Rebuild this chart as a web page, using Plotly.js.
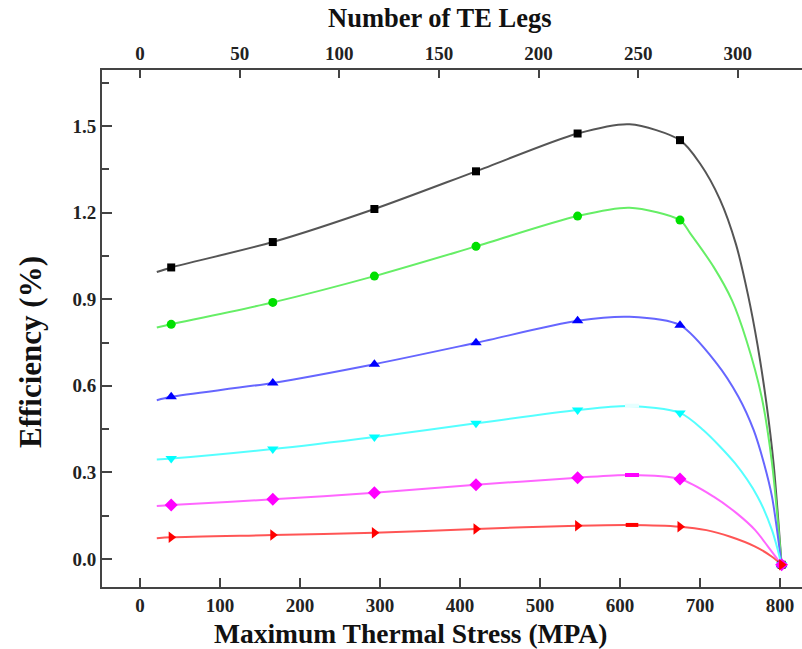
<!DOCTYPE html>
<html>
<head>
<meta charset="utf-8">
<script src="https://cdn.plot.ly/plotly-3.0.1.min.js"></script>
<style>html,body{margin:0;padding:0;background:#fff;}#chart{width:802px;height:649px;}</style>
</head>
<body>
<div id="chart"></div>
<script>
// ---- data ----
// stress (MPa) at the plotted markers
const markerStress = [39, 166, 293, 420, 547, 675, 802];
const blackMarkers   = [1.010, 1.098, 1.2125, 1.343, 1.474, 1.451, -0.02];
const greenMarkers   = [0.813, 0.889, 0.980, 1.083, 1.188, 1.174, -0.02];
const blueMarkers    = [0.562, 0.610, 0.675, 0.749, 0.825, 0.810, -0.02];
const cyanMarkers    = [0.348, 0.381, 0.423, 0.470, 0.516, 0.506, -0.02];
const magentaMarkers = [0.187, 0.2066, 0.2296, 0.257, 0.2815, 0.277, -0.02];
const redMarkers     = [0.075, 0.083, 0.091, 0.104, 0.1155, 0.112, -0.02];

// traced curve points
const blackCurveX = [21, 39, 166, 293, 420, 547, 612, 675, 700, 725, 745, 760, 772, 783, 792, 802];
const blackCurveY = [0.994, 1.010, 1.098, 1.2125, 1.343, 1.474, 1.506, 1.451, 1.37, 1.245, 1.09, 0.915, 0.74, 0.54, 0.33, -0.02];
const greenCurveX = [21, 39, 166, 293, 420, 547, 612, 675, 688, 717, 740, 758, 777, 790, 802];
const greenCurveY = [0.802, 0.813, 0.889, 0.980, 1.083, 1.188, 1.217, 1.174, 1.127, 1.012, 0.896, 0.758, 0.562, 0.332, -0.02];
const blueCurveX = [21, 39, 166, 293, 420, 547, 612, 675, 721, 748, 767, 780, 790, 802];
const blueCurveY = [0.550, 0.562, 0.610, 0.675, 0.749, 0.825, 0.839, 0.810, 0.677, 0.562, 0.447, 0.331, 0.216, -0.02];
const cyanCurveX = [21, 39, 166, 293, 420, 547, 612, 675, 704, 744, 772, 790, 802];
const cyanCurveY = [0.345, 0.348, 0.381, 0.423, 0.470, 0.516, 0.530, 0.506, 0.447, 0.331, 0.216, 0.10, -0.02];
const magentaCurveX = [21, 39, 166, 293, 420, 547, 612, 675, 717, 746, 769, 785, 802];
const magentaCurveY = [0.1835, 0.187, 0.2066, 0.2296, 0.257, 0.2815, 0.291, 0.277, 0.216, 0.158, 0.10, 0.043, -0.02];
const redCurveX = [21, 39, 166, 293, 420, 547, 612, 675, 708, 738, 769, 790, 802];
const redCurveY = [0.0717, 0.075, 0.083, 0.091, 0.104, 0.1155, 0.118, 0.112, 0.10, 0.077, 0.043, 0.008, -0.02];

// small bar marks near the peaks
const peakBarStress = [615];
const magentaPeakBar = [0.291];
const redPeakBar = [0.118];
const cyanPeakBar = [0.531];

const stressTicks = [0, 100, 200, 300, 400, 500, 600, 700, 800];
const legTicks = [0, 50, 100, 150, 200, 250, 300];
const effTicks = [0.0, 0.3, 0.6, 0.9, 1.2, 1.5];

const series = [
  {cx: blackCurveX, cy: blackCurveY, my: blackMarkers, line: '#555555', mark: '#000000', sym: 'square', size: 8},
  {cx: greenCurveX, cy: greenCurveY, my: greenMarkers, line: '#66ee66', mark: '#00e000', sym: 'circle', size: 9},
  {cx: blueCurveX, cy: blueCurveY, my: blueMarkers, line: '#6666ff', mark: '#0000ff', sym: 'triangle-up', size: 10},
  {cx: cyanCurveX, cy: cyanCurveY, my: cyanMarkers, line: '#55ffff', mark: '#00ffff', sym: 'triangle-down', size: 10},
  {cx: magentaCurveX, cy: magentaCurveY, my: magentaMarkers, line: '#ff66ff', mark: '#ff00ff', sym: 'diamond', size: 10},
  {cx: redCurveX, cy: redCurveY, my: redMarkers, line: '#ff5555', mark: '#ff0000', sym: 'triangle-right', size: 10}
];

const traces = [];
series.forEach(s => {
  traces.push({x: s.cx, y: s.cy, type: 'scatter', mode: 'lines',
    line: {color: s.line, width: 2, shape: 'spline', smoothing: 0.8},
    showlegend: false, hoverinfo: 'skip'});
});
series.forEach(s => {
  traces.push({x: markerStress, y: s.my, type: 'scatter', mode: 'markers',
    marker: {color: s.mark, symbol: s.sym, size: s.size, line: {width: 0}},
    showlegend: false});
});
traces.push({x: peakBarStress, y: cyanPeakBar, type: 'scatter', mode: 'markers',
  marker: {symbol: 'line-ew', size: 10, line: {color: '#e6ffff', width: 4}}, showlegend: false});
traces.push({x: peakBarStress, y: magentaPeakBar, type: 'scatter', mode: 'markers',
  marker: {symbol: 'line-ew', size: 10, line: {color: '#ff00ff', width: 4}}, showlegend: false});
traces.push({x: peakBarStress, y: redPeakBar, type: 'scatter', mode: 'markers',
  marker: {symbol: 'line-ew', size: 9, line: {color: '#ff0000', width: 4}}, showlegend: false});
// invisible trace to attach the top axis
traces.push({x: [legTicks[0]], y: [effTicks[0]], xaxis: 'x2', yaxis: 'y', type: 'scatter', mode: 'markers',
  marker: {opacity: 0}, showlegend: false, hoverinfo: 'skip'});

const tickFont = {family: 'Liberation Serif, Times New Roman, serif', size: 19, color: '#222', weight: 'bold'};
const titleFontFamily = 'Liberation Serif, Times New Roman, serif';

const layout = {
  width: 802, height: 649,
  margin: {l: 102, r: 0, t: 70, b: 62},
  paper_bgcolor: '#ffffff', plot_bgcolor: '#ffffff',
  showlegend: false,
  xaxis: {
    range: [-47.5, 827.5], tickvals: stressTicks, ticktext: stressTicks.map(String),
    ticks: 'inside', ticklen: 9, tickwidth: 2, tickcolor: '#444',
    showline: true, linewidth: 2, linecolor: '#444', showgrid: false, zeroline: false,
    tickfont: tickFont
  },
  xaxis2: {
    overlaying: 'x', side: 'top', anchor: 'y',
    range: [-19.07, 332.2], tickvals: legTicks, ticktext: legTicks.map(String),
    ticks: 'inside', ticklen: 8, tickwidth: 2, tickcolor: '#444',
    showline: true, linewidth: 2, linecolor: '#444', showgrid: false, zeroline: false,
    tickfont: tickFont
  },
  yaxis: {
    range: [-0.097, 1.694], tickvals: effTicks, ticktext: effTicks.map(v => v.toFixed(1)),
    ticks: 'inside', ticklen: 10, tickwidth: 2, tickcolor: '#444',
    minor: {tickvals: [0.15, 0.45, 0.75, 1.05, 1.35, 1.65], ticks: 'inside', ticklen: 7, tickwidth: 2, tickcolor: '#444'},
    showline: true, linewidth: 2, linecolor: '#444', showgrid: false, zeroline: false,
    tickfont: tickFont
  },
  annotations: [
    {text: 'Number of TE Legs', xref: 'paper', yref: 'paper', x: 0.483, y: 1.1006,
     xanchor: 'center', yanchor: 'middle', showarrow: false,
     font: {family: titleFontFamily, size: 26.5, color: '#111', weight: 'bold'}},
    {text: 'Maximum Thermal Stress (MPA)', xref: 'paper', yref: 'paper', x: 0.44, y: -0.0909,
     xanchor: 'center', yanchor: 'middle', showarrow: false,
     font: {family: titleFontFamily, size: 27.5, color: '#111', weight: 'bold'}},
    {text: 'Efficiency (%)', xref: 'paper', yref: 'paper', x: -0.1029, y: 0.4545,
     xanchor: 'center', yanchor: 'middle', showarrow: false, textangle: -90,
     font: {family: titleFontFamily, size: 31, color: '#111', weight: 'bold'}}
  ]
};

Plotly.newPlot('chart', traces, layout, {displayModeBar: false, staticPlot: true});
</script>
</body>
</html>
